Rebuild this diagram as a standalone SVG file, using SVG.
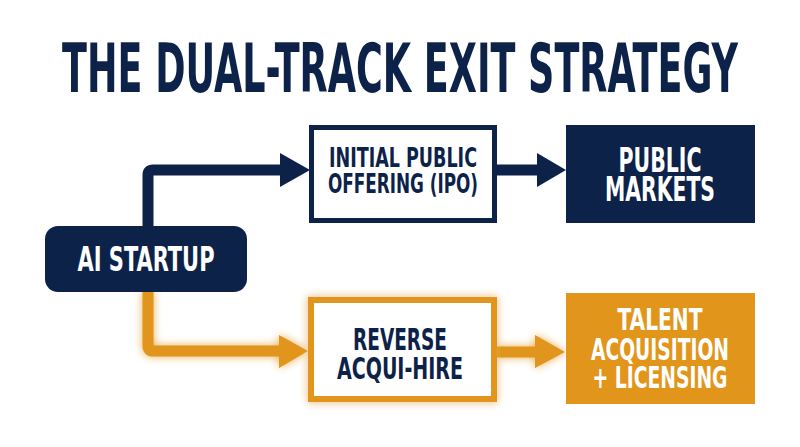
<svg xmlns="http://www.w3.org/2000/svg" width="800" height="447" viewBox="0 0 800 447">
<style>
.t{font-family:"DejaVu Sans Condensed","Liberation Sans Narrow","Liberation Sans",sans-serif;font-weight:bold;text-anchor:middle}
.navyT{fill:#0c2249}
.whiteT{fill:#ffffff}
.navyS{stroke:#0c2249;fill:none}
.orS{stroke:#e1951b;fill:none}
</style>
<defs>
<filter id="glow" x="-20%" y="-20%" width="140%" height="140%">
<feGaussianBlur in="SourceGraphic" stdDeviation="4" result="b"/>
<feComponentTransfer in="b" result="b2"><feFuncA type="linear" slope="0.8"/></feComponentTransfer>
<feMerge><feMergeNode in="b2"/><feMergeNode in="SourceGraphic"/></feMerge>
</filter>
</defs>
<rect width="800" height="447" fill="#ffffff"/>
<text id="title" class="t navyT" transform="translate(400 92) scale(1 1.6)" font-size="42.5" textLength="676" lengthAdjust="spacingAndGlyphs">THE DUAL-TRACK EXIT STRATEGY</text>
<g id="connectors">
<path class="navyS" d="M148 228 V175 Q148 170 153 170 H283" stroke-width="11"/>
<polygon fill="#0c2249" points="280,153 310,170 280,187"/>
<path class="navyS" d="M497 170 H539" stroke-width="11"/>
<polygon fill="#0c2249" points="537,153 566,170 537,187"/>
<g filter="url(#glow)">
<path class="orS" d="M148 292 V346 Q148 351 153 351 H282" stroke-width="11"/>
<polygon fill="#e1951b" points="279,335 308,351 279,368"/>
<path class="orS" d="M497 352 H537" stroke-width="11"/>
<polygon fill="#e1951b" points="535,335 565,352 535,368"/>
</g>
</g>
<g id="ai-startup">
<rect x="45" y="226" width="202" height="66" rx="13" fill="#0c2249"/>
<text class="t whiteT" transform="translate(146 271) scale(1 1.4)" font-size="23.5" textLength="137" lengthAdjust="spacingAndGlyphs">AI STARTUP</text>
</g>
<g id="ipo">
<rect x="311.5" y="127.5" width="183" height="93" fill="#ffffff" stroke="#0c2249" stroke-width="5"/>
<text class="t navyT" transform="translate(403 167) scale(1 1.4)" font-size="19.6"><tspan x="0" y="0" textLength="148" lengthAdjust="spacingAndGlyphs">INITIAL PUBLIC</tspan><tspan x="0" y="18.57" textLength="150" lengthAdjust="spacingAndGlyphs">OFFERING (IPO)</tspan></text>
</g>
<g id="public-markets">
<rect x="566" y="125" width="189" height="98" fill="#0c2249"/>
<text class="t whiteT" transform="translate(660 172) scale(1 1.4)" font-size="23.5"><tspan x="0" y="0" textLength="83" lengthAdjust="spacingAndGlyphs">PUBLIC</tspan><tspan x="0" y="20.71" textLength="110" lengthAdjust="spacingAndGlyphs">MARKETS</tspan></text>
</g>
<g id="reverse-acqui-hire">
<rect x="311" y="300" width="183" height="99" fill="#ffffff" stroke="#e1951b" stroke-width="6" filter="url(#glow)"/>
<text class="t navyT" transform="translate(400 350) scale(1 1.4)" font-size="21.5"><tspan x="0" y="0" textLength="94" lengthAdjust="spacingAndGlyphs">REVERSE</tspan><tspan x="0" y="20.71" textLength="126" lengthAdjust="spacingAndGlyphs">ACQUI-HIRE</tspan></text>
</g>
<g id="talent-licensing">
<rect x="566" y="293" width="189" height="111" fill="#e1951b"/>
<text class="t whiteT" transform="translate(660 330) scale(1 1.4)" font-size="21.5"><tspan x="0" y="0" textLength="85" lengthAdjust="spacingAndGlyphs">TALENT</tspan><tspan x="0" y="21.43" textLength="138" lengthAdjust="spacingAndGlyphs">ACQUISITION</tspan><tspan x="0" y="41.43" textLength="135" lengthAdjust="spacingAndGlyphs">+ LICENSING</tspan></text>
</g>
</svg>
